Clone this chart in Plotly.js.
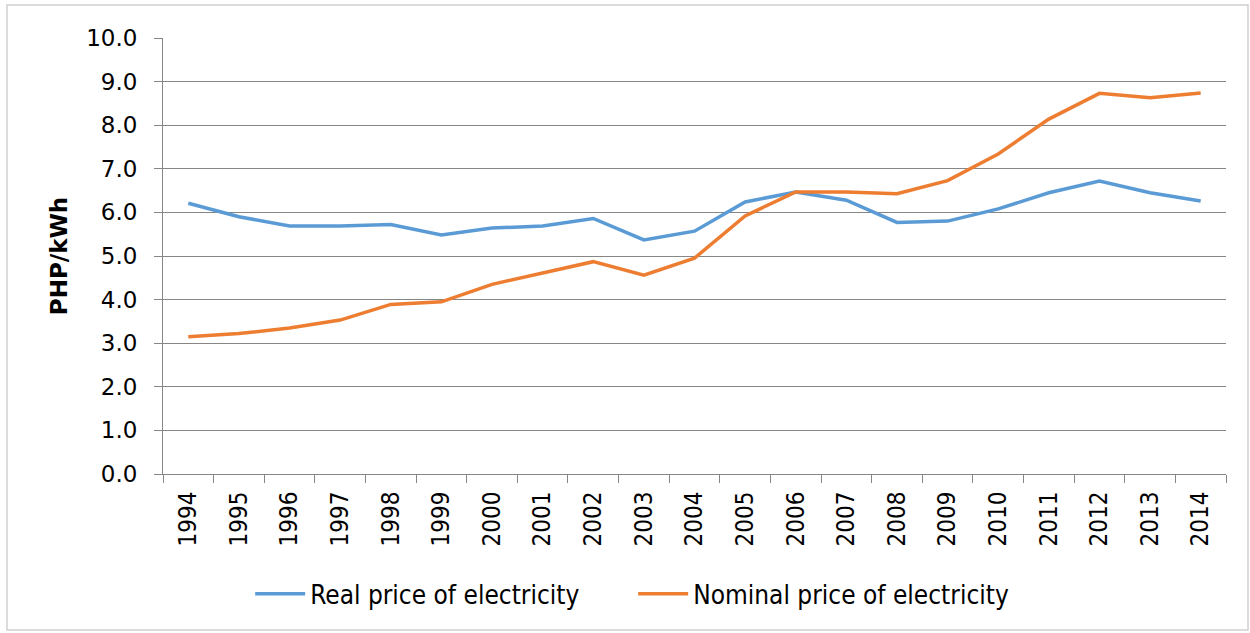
<!DOCTYPE html>
<html>
<head>
<meta charset="utf-8">
<script src="https://cdn.plot.ly/plotly-3.0.1.min.js"></script>
<style>html,body{margin:0;padding:0;background:#fff;}#chart{width:1250px;height:633px;}</style>
</head>
<body>
<div id="chart"></div>
<script>
const years = ['1994','1995','1996','1997','1998','1999','2000','2001','2002','2003','2004','2005','2006','2007','2008','2009','2010','2011','2012','2013','2014'];
const realPrice = [6.21,5.90,5.69,5.69,5.72,5.48,5.64,5.69,5.86,5.37,5.57,6.24,6.47,6.28,5.77,5.80,6.08,6.45,6.72,6.45,6.26];
const nominalPrice = [3.15,3.22,3.35,3.53,3.89,3.95,4.35,4.60,4.87,4.56,4.95,5.92,6.47,6.47,6.43,6.73,7.34,8.14,8.73,8.63,8.74];
const seriesNames = ['Real price of electricity','Nominal price of electricity'];
const yTitle = 'PHP/kWh';

const traces = [
  {x: years, y: realPrice, name: seriesNames[0], type: 'scatter', mode: 'lines',
   line: {color: '#5B9BD5', width: 3.5}},
  {x: years, y: nominalPrice, name: seriesNames[1], type: 'scatter', mode: 'lines',
   line: {color: '#ED7D31', width: 3.5}}
];

const layout = {
  width: 1250, height: 633,
  margin: {l: 163, r: 24, t: 38, b: 159},
  paper_bgcolor: '#fff', plot_bgcolor: '#fff',
  font: {family: '"DejaVu Sans", sans-serif', color: '#000'},
  showlegend: true,
  legend: {orientation: 'h', x: 0.082, xanchor: 'left', y: -0.275, yanchor: 'middle',
           font: {family: '"DejaVu Sans Condensed", sans-serif', size: 26, color: '#000'},
           itemwidth: 50, tracegroupgap: 0, entrywidth: 318, entrywidthmode: 'pixels'},
  xaxis: {type: 'category', range: [-0.5, 20.5], tickangle: -90,
          ticks: 'outside', tickson: 'boundaries', ticklen: 8, tickcolor: '#868686', ticklabelstandoff: 7,
          showline: true, linecolor: '#868686', linewidth: 1, showgrid: false,
          tickfont: {family: '"DejaVu Sans Condensed", sans-serif', size: 24, color: '#000'}},
  yaxis: {range: [0, 10], dtick: 1, tick0: 0, tickformat: '.1f',
          ticks: 'outside', ticklen: 8, tickcolor: '#868686', ticklabelstandoff: 12,
          showline: true, linecolor: '#868686', linewidth: 1,
          showgrid: true, gridcolor: '#868686', gridwidth: 1, zeroline: false,
          tickfont: {family: '"DejaVu Sans", sans-serif', size: 23, color: '#000'},
          title: {text: '<b>' + yTitle + '</b>', standoff: 12,
                  font: {family: '"DejaVu Sans", sans-serif', size: 23, color: '#000'}}},
  shapes: [{type: 'rect', xref: 'paper', yref: 'paper',
            x0: -0.1468, x1: 1.0207, y0: -0.3578, y1: 1.0757,
            line: {color: '#D0D0D0', width: 1.5}, fillcolor: 'rgba(0,0,0,0)', layer: 'below'}]
};

Plotly.newPlot('chart', traces, layout, {displayModeBar: false, staticPlot: true});
</script>
</body>
</html>
